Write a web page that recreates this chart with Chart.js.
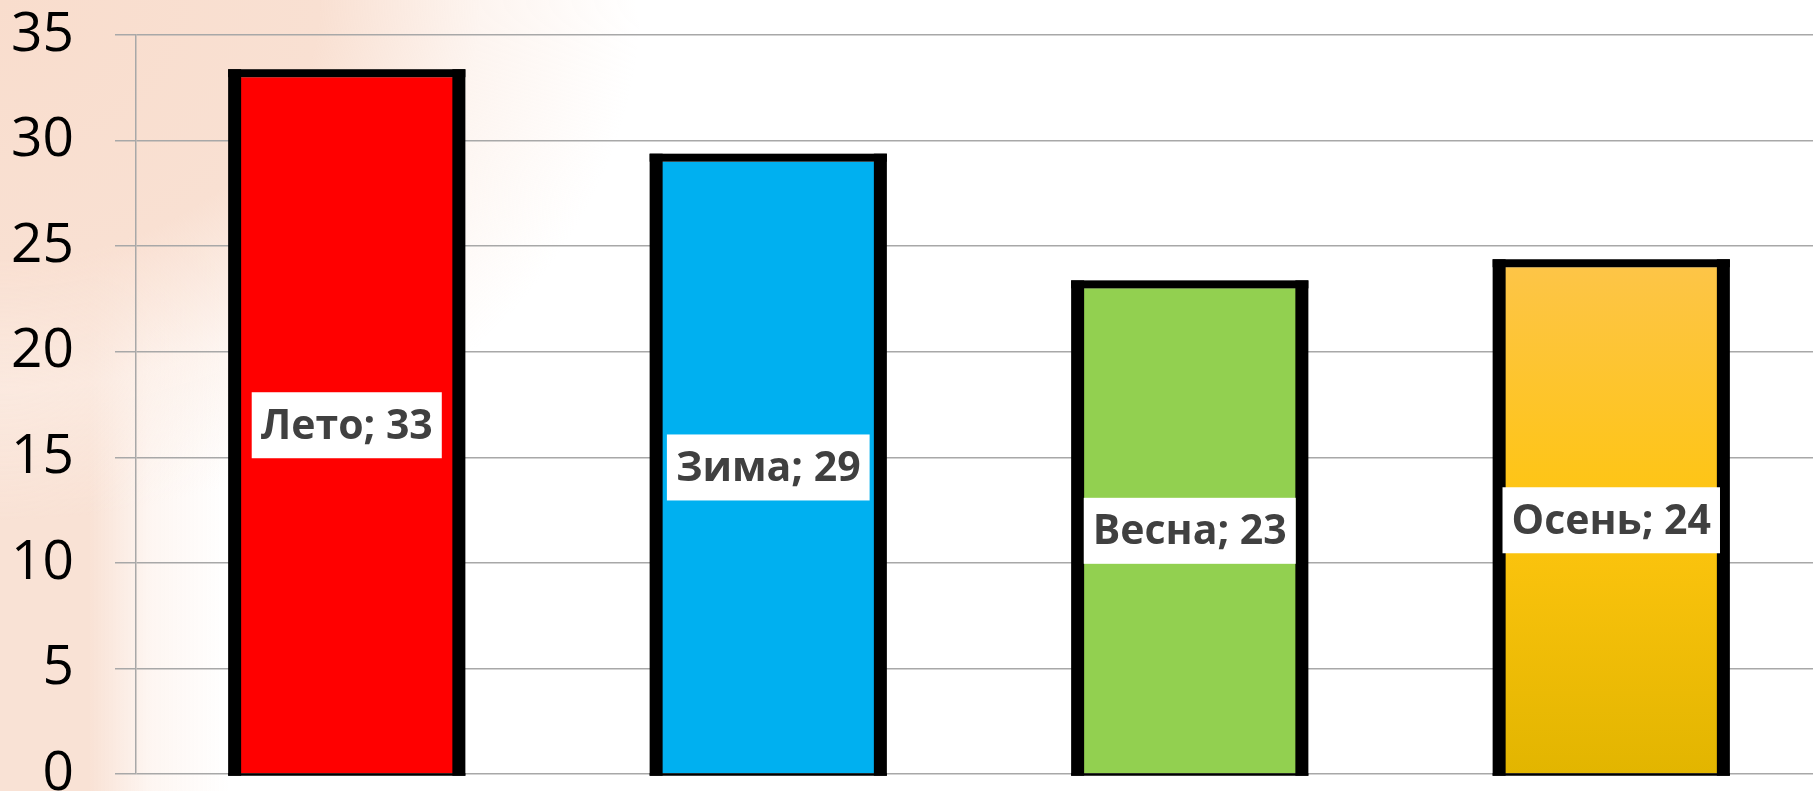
<!DOCTYPE html>
<html>
<head>
<meta charset="utf-8">
<script src="https://cdn.jsdelivr.net/npm/chart.js@4"></script>
<style>
  html, body { margin: 0; padding: 0; overflow: hidden; width: 1813px; height: 791px; }
  body {
    background:
      radial-gradient(ellipse 640px 520px at 0px 0px, rgba(249,221,205,1) 0%, rgba(249,224,210,1) 50%, rgba(252,238,230,0.6) 75%, rgba(255,255,255,0) 100%),
      linear-gradient(to right, rgba(249,226,213,1) 0px, rgba(249,226,213,1) 90px, rgba(253,242,236,0.7) 150px, rgba(255,255,255,0) 230px),
      #FFFFFF;
  }
  #c { position: absolute; left: 0; top: 0; }
</style>
</head>
<body>
<canvas id="c" width="1822" height="791"></canvas>
<script>
const categories = ["Лето", "Зима", "Весна", "Осень"];
const values = [33, 29, 23, 24];
const barColors = ["#FF0000", "#00B0F0", "#92D050", "gold-gradient"];
const yTicks = [0, 5, 10, 15, 20, 25, 30, 35];

function barFill(ctx) {
  const c = barColors[ctx.dataIndex];
  if (c !== "gold-gradient") return c;
  const chart = ctx.chart;
  if (!chart.scales || !chart.scales.y) return "#FFC510";
  const y = chart.scales.y;
  const top = y.getPixelForValue(values[ctx.dataIndex]);
  const bot = y.getPixelForValue(0);
  const g = chart.ctx.createLinearGradient(0, top, 0, bot);
  g.addColorStop(0, "#FDC547");
  g.addColorStop(0.5, "#FEC50F");
  g.addColorStop(1, "#E2B500");
  return g;
}

const borderPlugin = {
  id: "barBorders",
  afterDatasetsDraw(chart) {
    const ctx = chart.ctx;
    const meta = chart.getDatasetMeta(0);
    ctx.save();
    ctx.fillStyle = "#000000";
    meta.data.forEach((el) => {
      const p = el.getProps(["x", "y", "base", "width"], true);
      const half = p.width / 2;
      const side = 13, top = 8;
      ctx.fillRect(p.x - half - side / 2, p.y - top, p.width + side, top);
      ctx.fillRect(p.x - half - side / 2, p.y - top, side, p.base - p.y + top + 2.5);
      ctx.fillRect(p.x + half - side / 2, p.y - top, side, p.base - p.y + top + 2.5);
      ctx.fillRect(p.x - half - side / 2, p.base, p.width + side, 2.5);
    });
    ctx.restore();
  }
};

const labelPlugin = {
  id: "centerLabels",
  afterDatasetsDraw(chart) {
    const ctx = chart.ctx;
    const meta = chart.getDatasetMeta(0);
    ctx.save();
    ctx.font = "bold 41px 'Open Sans'";
    ctx.textAlign = "center";
    ctx.textBaseline = "middle";
    meta.data.forEach((el, i) => {
      const p = el.getProps(["x", "y", "base"], true);
      const cy = (p.y + p.base) / 2;
      const txt = categories[i] + "; " + values[i];
      const w = ctx.measureText(txt).width + 18;
      const h = 66;
      ctx.fillStyle = "#FFFFFF";
      ctx.fillRect(p.x - w / 2, cy - h / 2, w, h);
      ctx.fillStyle = "#404040";
      ctx.fillText(txt, p.x, cy + 2);
    });
    ctx.restore();
  }
};

new Chart(document.getElementById("c"), {
  type: "bar",
  data: {
    labels: categories,
    datasets: [{
      data: values,
      backgroundColor: barFill,
      borderWidth: 0,
      barPercentage: 0.532,
      categoryPercentage: 1.0
    }]
  },
  options: {
    responsive: false,
    animation: false,
    events: [],
    layout: { padding: { top: 35, bottom: 17, left: 0, right: 0 } },
    plugins: { legend: { display: false }, tooltip: { enabled: false } },
    scales: {
      x: { display: false },
      y: {
        min: 0,
        max: 35,
        afterBuildTicks(scale) { scale.ticks = yTicks.map(v => ({ value: v })); },
        afterFit(scale) {
          scale.width = 136;
          scale.paddingTop = 0;
          scale.paddingBottom = 0;
        },
        grid: { color: "#A8A8A8", lineWidth: 1.5, tickLength: 21, drawTicks: true },
        border: { display: true, color: "#A8A8A8", width: 1.5 },
        ticks: {
          color: "#000000",
          padding: 41,
          font: { family: "'Open Sans'", size: 55 }
        }
      }
    }
  },
  plugins: [borderPlugin, labelPlugin]
});
</script>
</body>
</html>
